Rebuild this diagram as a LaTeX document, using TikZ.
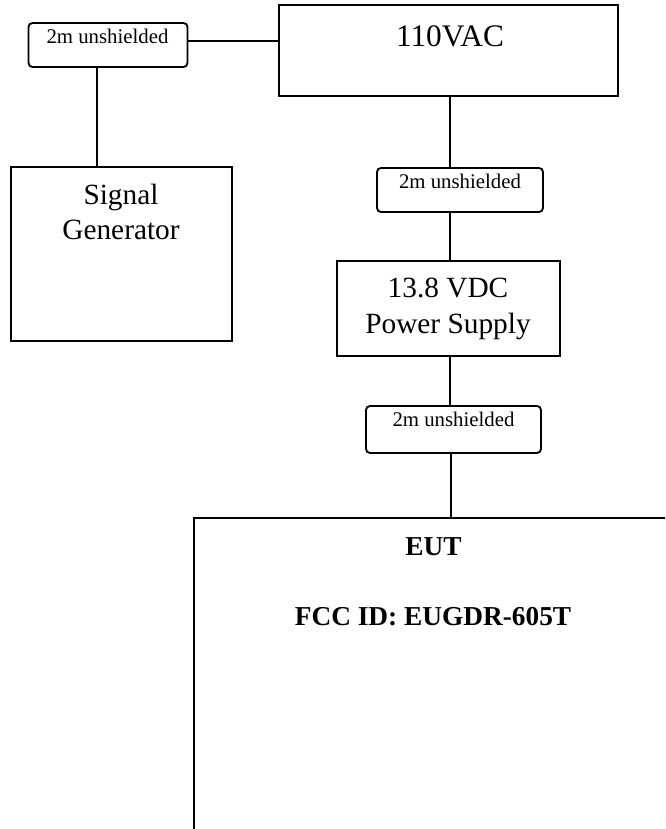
\documentclass[tikz,border=0pt]{standalone}
\usepackage{fontspec}
\setmainfont{Liberation Serif}
\begin{document}
\begin{tikzpicture}[x=0.75pt,y=-0.75pt,
  box/.style={draw,line width=1.4pt,inner sep=0pt},
  cable/.style={draw,line width=1.4pt,rounded corners=3pt,inner sep=0pt},
  wire/.style={line width=1.1pt},
  txt/.style={anchor=base,inner sep=0pt},
  small/.style={txt,font=\fontsize{15.6}{18}\selectfont},
  big/.style={txt,font=\fontsize{22}{26}\selectfont},
  bold/.style={txt,font=\fontsize{20.5}{24}\selectfont\bfseries}]
\useasboundingbox (0,0) rectangle (665,829);
\clip (0,0) rectangle (665,829);
% boxes
\node[cable,minimum width=119.25pt,minimum height=33pt] (c1) at (108,45) {};
\node[box,minimum width=254.25pt,minimum height=68.25pt] (ac) at (448.5,50.5) {};
\node[box,minimum width=165.75pt,minimum height=130.5pt] (sg) at (121.5,254) {};
\node[cable,minimum width=124.5pt,minimum height=33pt] (c2) at (460,190) {};
\node[box,minimum width=167.25pt,minimum height=71.25pt] (ps) at (448.5,308.5) {};
\node[cable,minimum width=131.25pt,minimum height=35.25pt] (c3) at (453.5,429.5) {};
\node[box,minimum width=358.5pt,minimum height=286.5pt] (eut) at (433,709) {};
% texts
\node[small] (t1) at (107.5,43) {2m unshielded};
\node[small] (t2) at (460,188) {2m unshielded};
\node[small] (t3) at (453.5,426) {2m unshielded};
\node[txt,font=\fontsize{23.5}{28}\selectfont] (tac) at (450,46) {110VAC};
\node[big] (tsg1) at (121,204) {Signal};
\node[big] (tsg2) at (121,239) {Generator};
\node[big] (tps1) at (448,297) {13.8 VDC};
\node[big] (tps2) at (448,333) {Power Supply};
\node[bold] (te1) at (433.5,555) {EUT};
\node[bold] (te2) at (433,625) {FCC ID: EUGDR-605T};
% connector guides
\coordinate (hy) at (0,41);
\coordinate (vx1) at (97,0);
\coordinate (vx2) at (450,0);
\coordinate (vx3) at (451,0);
% connectors
\draw[wire] (c1.east |- hy) -- (ac.west |- hy);
\draw[wire] (c1.south -| vx1) -- (sg.north -| vx1);
\draw[wire] (ac.south -| vx2) -- (c2.north -| vx2);
\draw[wire] (c2.south -| vx2) -- (ps.north -| vx2);
\draw[wire] (ps.south -| vx2) -- (c3.north -| vx2);
\draw[wire] (c3.south -| vx3) -- (eut.north -| vx3);
\end{tikzpicture}
\end{document}
